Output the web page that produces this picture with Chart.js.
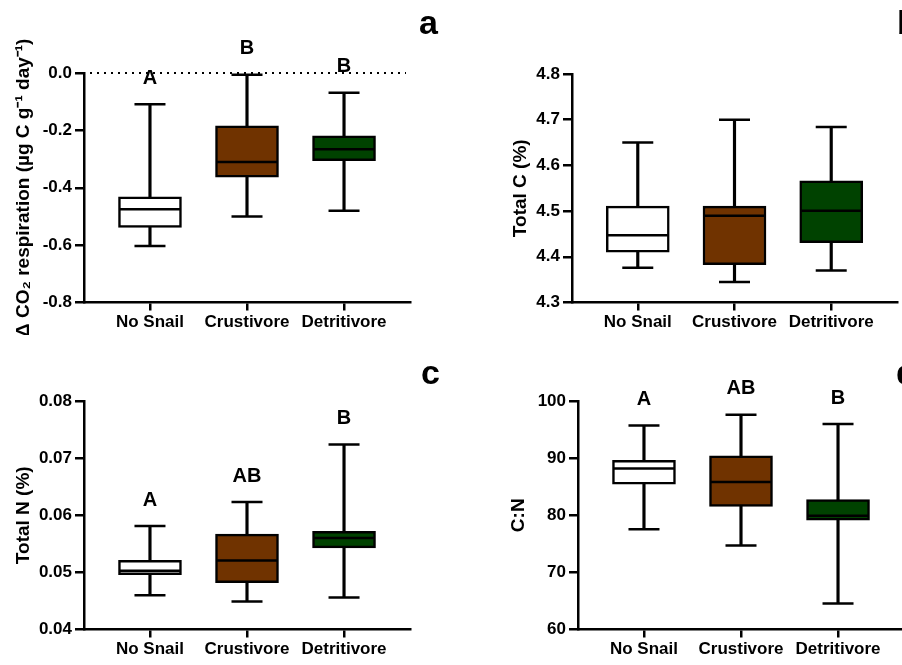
<!DOCTYPE html>
<html><head><meta charset="utf-8">
<script src="https://cdn.jsdelivr.net/npm/chart.js@4"></script>
<style>
html,body{margin:0;padding:0;background:#fff;overflow:hidden;width:902px;height:665px;position:relative;}
canvas{position:absolute;}
.pl{position:absolute;font:bold 34px "Liberation Sans",Arial,sans-serif;line-height:34px;color:#000;white-space:nowrap;}
</style></head><body>
<canvas id="ca" width="450" height="335" style="left:0;top:0"></canvas>
<canvas id="cb" width="460" height="335" style="left:497px;top:0"></canvas>
<canvas id="cc" width="450" height="327" style="left:0;top:335px"></canvas>
<canvas id="cd" width="470" height="327" style="left:495px;top:335px"></canvas>
<div class="pl" style="left:419px;top:5px">a</div>
<div class="pl" style="left:897px;top:5px">b</div>
<div class="pl" style="left:421px;top:355px">c</div>
<div class="pl" style="left:896px;top:355px">d</div>
<script>
// ---- data ----
const categories = ['No Snail', 'Crustivore', 'Detritivore'];

// a: Δ CO2 respiration
const respMin = [-0.603, -0.500, -0.480];
const respQ1  = [-0.538, -0.363, -0.306];
const respMed = [-0.475, -0.310, -0.266];
const respQ3  = [-0.432, -0.184, -0.219];
const respMax = [-0.109, -0.006, -0.069];
const respLetters = ['A', 'B', 'B'];
const respTicks = [-0.8, -0.6, -0.4, -0.2, 0.0];

// b: Total C (%)
const totCMin = [4.376, 4.345, 4.370];
const totCQ1  = [4.410, 4.383, 4.431];
const totCMed = [4.447, 4.490, 4.501];
const totCQ3  = [4.511, 4.511, 4.566];
const totCMax = [4.650, 4.700, 4.684];
const totCLetters = [];
const totCTicks = [4.3, 4.4, 4.5, 4.6, 4.7, 4.8];

// c: Total N (%)
const totNMin = [0.0460, 0.0449, 0.0456];
const totNQ1  = [0.0496, 0.0482, 0.0543];
const totNMed = [0.0503, 0.0521, 0.0560];
const totNQ3  = [0.0521, 0.0567, 0.0572];
const totNMax = [0.0581, 0.0623, 0.0724];
const totNLetters = ['A', 'AB', 'B'];
const totNTicks = [0.04, 0.05, 0.06, 0.07, 0.08];

// d: C:N
const cnMin = [77.55, 74.72, 64.56];
const cnQ1  = [85.45, 81.53, 79.16];
const cnMed = [88.2, 85.8, 79.9];
const cnQ3  = [89.6, 90.42, 82.74];
const cnMax = [95.73, 97.58, 95.96];
const cnLetters = ['A', 'AB', 'B'];
const cnTicks = [60, 70, 80, 90, 100];

const boxColors = ['#ffffff', '#703300', '#004200'];
const FONT = '"Liberation Sans", Arial, sans-serif';

const boxExtras = {
  id: 'boxExtras',
  beforeDatasetsDraw(chart, args, o) {
    if (!o.zeroLine) return;
    const ctx = chart.ctx, ca = chart.chartArea;
    const y = chart.scales.y.getPixelForValue(0);
    ctx.save();
    ctx.strokeStyle = '#000'; ctx.lineWidth = 2; ctx.setLineDash([2, 5]);
    ctx.beginPath(); ctx.moveTo(ca.left + 6, y); ctx.lineTo(ca.right - 4, y); ctx.stroke();
    ctx.restore();
  },
  afterDatasetsDraw(chart, args, o) {
    const ctx = chart.ctx;
    ctx.save();
    ctx.font = 'bold 20px ' + FONT;
    ctx.fillStyle = '#000'; ctx.textAlign = 'center'; ctx.textBaseline = 'middle';
    (o.letters || []).forEach((t, i) => {
      const x = chart.scales.x.getPixelForValue(i);
      const y = chart.scales.y.getPixelForValue(o.maxes[i]) - 26;
      ctx.fillText(t, x, y);
    });
    ctx.restore();
  }
};

function panel(id, p) {
  const idx = categories.map((c, i) => i);
  const pts = arr => arr.map((v, i) => ({x: i, y: v}));
  new Chart(document.getElementById(id), {
    type: 'bar',
    data: {
      datasets: [
        { type: 'bar', order: 3, grouped: false, barThickness: 2.5, backgroundColor: '#000', borderWidth: 0,
          data: idx.map(i => ({x: i, y: [p.min[i], p.max[i]]})) },
        { type: 'bar', order: 2, grouped: false, barThickness: 63, backgroundColor: boxColors,
          borderColor: '#000', borderWidth: 2.5, borderSkipped: false,
          data: idx.map(i => ({x: i, y: [p.q1[i], p.q3[i]]})) },
        { type: 'scatter', order: 1, pointStyle: 'line', pointRadius: 30, pointBorderWidth: 2.5,
          borderColor: '#000', backgroundColor: '#000', data: pts(p.med) },
        { type: 'scatter', order: 1, pointStyle: 'line', pointRadius: 15.5, pointBorderWidth: 2.5,
          borderColor: '#000', backgroundColor: '#000', data: pts(p.min).concat(pts(p.max)) }
      ]
    },
    options: {
      responsive: false, animation: false, devicePixelRatio: 1,
      layout: { padding: { left: 0, right: p.padRight, top: p.padTop, bottom: 0 } },
      plugins: { legend: { display: false }, tooltip: { enabled: false },
        boxExtras: { letters: p.letters, maxes: p.max, zeroLine: p.zeroLine } },
      scales: {
        x: {
          type: 'linear', min: -0.68, max: 2.68, offset: false,
          afterBuildTicks: s => { s.ticks = idx.map(i => ({value: i})); },
          afterFit: s => { s.height = 30; s.paddingLeft = 0; s.paddingRight = 0; },
          border: { display: true, color: '#000', width: 2.5 },
          grid: { display: true, offset: false, drawOnChartArea: false, drawTicks: true, tickLength: 8, color: '#000', lineWidth: 2.5 },
          ticks: { color: '#000', padding: 2, maxRotation: 0, autoSkip: false,
            font: { family: FONT, size: 17, weight: 'bold' },
            callback: v => categories[v] }
        },
        y: {
          type: 'linear', min: p.ticks[0], max: p.ticks[p.ticks.length - 1],
          afterBuildTicks: s => { s.ticks = p.ticks.map(v => ({value: v})); },
          afterFit: s => { s.width = p.yWidth; s.paddingTop = 0; s.paddingBottom = 0; },
          border: { display: true, color: '#000', width: 2.5 },
          grid: { display: true, drawOnChartArea: false, drawTicks: true, tickLength: 9, color: '#000', lineWidth: 2.5 },
          ticks: { color: '#000', padding: 3, font: { family: FONT, size: 17, weight: 'bold' },
            callback: v => v.toFixed(p.dec) },
          title: { display: true, text: p.title, color: '#000', padding: { top: 12, bottom: 0 },
            font: { family: FONT, size: 19, weight: 'bold' } }
        }
      }
    },
    plugins: [boxExtras]
  });
}

panel('ca', { min: respMin, q1: respQ1, med: respMed, q3: respQ3, max: respMax, letters: respLetters,
  ticks: respTicks, dec: 1, title: 'Δ CO₂ respiration (µg C g⁻¹ day⁻¹)', zeroLine: true,
  yWidth: 84, padTop: 73, padRight: 40 });
panel('cb', { min: totCMin, q1: totCQ1, med: totCMed, q3: totCQ3, max: totCMax, letters: totCLetters,
  ticks: totCTicks, dec: 1, title: 'Total C (%)', zeroLine: false,
  yWidth: 75, padTop: 74, padRight: 60 });
panel('cc', { min: totNMin, q1: totNQ1, med: totNMed, q3: totNQ3, max: totNMax, letters: totNLetters,
  ticks: totNTicks, dec: 2, title: 'Total N (%)', zeroLine: false,
  yWidth: 84, padTop: 66, padRight: 40 });
panel('cd', { min: cnMin, q1: cnQ1, med: cnMed, q3: cnQ3, max: cnMax, letters: cnLetters,
  ticks: cnTicks, dec: 0, title: 'C:N', zeroLine: false,
  yWidth: 83, padTop: 66, padRight: 61 });
</script>
</body></html>
